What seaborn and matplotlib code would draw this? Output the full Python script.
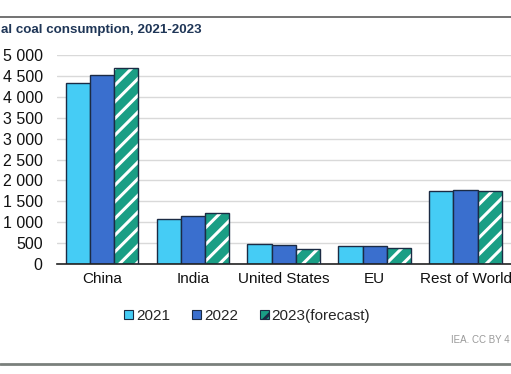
import pandas as pd
import seaborn as sns
import matplotlib.pyplot as plt
from matplotlib.patches import Patch, Rectangle
from matplotlib.lines import Line2D
from matplotlib.ticker import FuncFormatter

# Coal consumption (Mt)
regions = ["China", "India", "United States", "EU", "Rest of World"]
years = ["2021", "2022", "2023(forecast)"]
v2021 = [4330, 1070, 483, 428, 1745]
v2022 = [4520, 1145, 445, 432, 1762]
v2023 = [4680, 1210, 357, 373, 1755]
yticks = [0, 500, 1000, 1500, 2000, 2500, 3000, 3500, 4000, 4500, 5000]

colors = ["#45ccf5", "#3a6fce", "#1a9e85"]
edge = "#1b2b44"

df = pd.DataFrame({
    "region": regions * 3,
    "year": [years[0]] * 5 + [years[1]] * 5 + [years[2]] * 5,
    "value": v2021 + v2022 + v2023,
})

sns.set_style("white")
plt.rcParams["font.family"] = ["Liberation Sans", "DejaVu Sans"]
plt.rcParams["hatch.linewidth"] = 2.2

fig = plt.figure(figsize=(5.11, 3.74), dpi=100)
ax = fig.add_axes([0.1106, 0.294, 0.8894, 0.559])

sns.barplot(data=df, x="region", y="value", hue="year", palette=colors,
            saturation=1, width=0.8, edgecolor=edge, linewidth=1,
            legend=False, ax=ax)

# white stripes on the forecast bars, dark outline drawn on top
for bar in ax.containers[2]:
    bar.set_hatch("//")
    bar.set_edgecolor("white")
    bar.set_linewidth(0)
    ax.add_patch(Rectangle(bar.get_xy(), bar.get_width(), bar.get_height(),
                           fill=False, edgecolor=edge, lw=1, zorder=3))

ax.set_xlim(-0.5, 4.5)
ax.set_ylim(0, 5000)
ax.set_yticks(yticks)
ax.yaxis.set_major_formatter(FuncFormatter(lambda v, p: f"{int(v):,}".replace(",", " ")))
ax.grid(axis="y", color="#d9d9d9", lw=1)
ax.set_axisbelow(True)
for s in ["top", "right", "left"]:
    ax.spines[s].set_visible(False)
ax.spines["bottom"].set_color("#222222")
ax.spines["bottom"].set_linewidth(1.2)
ax.tick_params(axis="y", length=0, labelsize=11.5, pad=10, colors="#111111")
ax.tick_params(axis="x", length=0, labelsize=11, pad=6, colors="#111111")
ax.set_xlabel("")
ax.set_ylabel("")

handles = [Patch(facecolor=colors[0], edgecolor=edge, lw=0.8),
           Patch(facecolor=colors[1], edgecolor=edge, lw=0.8),
           Patch(facecolor=colors[2], edgecolor=edge, lw=0.8, hatch="//")]
fig.legend(handles, years, loc="center", bbox_to_anchor=(0.484, 0.155),
           ncol=3, frameon=False, fontsize=11, handlelength=0.6,
           handleheight=0.6, handletextpad=0.2, columnspacing=1.4)

# the reference image is cropped, so only the visible part of each text is kept
fig.text(1 / 511, 1 - 30 / 374, "al coal consumption, 2021-2023",
         ha="left", va="center", fontsize=9.6, fontweight="bold", color="#1f3657")
fig.text(510 / 511, 1 - 340 / 374, "IEA. CC BY 4", ha="right", va="center",
         fontsize=7, color="#9a9a9a")

fig.add_artist(Line2D([0, 1], [1 - 17 / 374] * 2, color="#5a5a5a", lw=1.2))
fig.add_artist(Line2D([0, 1], [1 - 364 / 374] * 2, color="#7a807c", lw=2))

fig.savefig("out.png", dpi=100)
